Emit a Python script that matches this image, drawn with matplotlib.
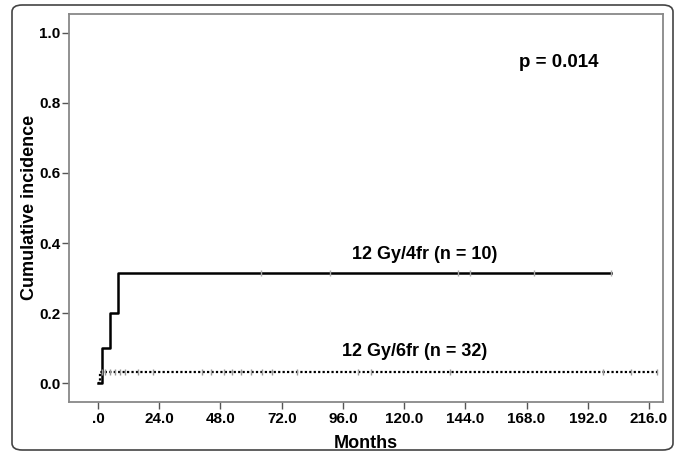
import matplotlib.pyplot as plt
from matplotlib.patches import FancyBboxPatch

plt.rcParams['font.family'] = ['Liberation Sans', 'DejaVu Sans']
plt.rcParams['font.weight'] = 'bold'

# 12 Gy/4fr curve (step times in months, cumulative incidence)
t_4fr = [0.0, 1.4, 4.7, 7.7, 201.0]
ci_4fr = [0.0, 0.1, 0.2, 0.315, 0.315]
cens_4fr = [64, 91, 141, 146, 171, 201]

# 12 Gy/6fr curve
t_6fr = [0.0, 0.6, 219.0]
ci_6fr = [0.0, 0.031, 0.031]
cens_6fr = [1.4, 2.7, 4.7, 6.6, 8.6, 10.5, 15.6, 21.4, 40.9, 44.4, 49.5, 52.6,
            56.1, 60, 64.3, 68.2, 78, 102, 107, 138, 198, 209, 219]

xticks = [0, 24, 48, 72, 96, 120, 144, 168, 192, 216]
xticklabels = ['.0', '24.0', '48.0', '72.0', '96.0', '120.0', '144.0', '168.0', '192.0', '216.0']
yticks = [0.0, 0.2, 0.4, 0.6, 0.8, 1.0]

W, H = 682, 453
fig = plt.figure(figsize=(W / 100, H / 100), dpi=100)
ax = fig.add_axes([69 / W, 1 - 402 / H, (663 - 69) / W, (402 - 14) / H])

# outer rounded frame
frame = FancyBboxPatch((12 / W, 1 - 450 / H), (673 - 12) / W, (450 - 5) / H,
                       boxstyle='round,pad=0,rounding_size=0.015',
                       transform=fig.transFigure, fill=False,
                       edgecolor='#444444', linewidth=1.2, zorder=-1)
fig.patches.append(frame)

ax.step(t_4fr, ci_4fr, where='post', color='black', lw=1.8)
ax.plot(cens_4fr, [0.315] * len(cens_4fr), linestyle='none', marker='|',
        color='#aaaaaa', markersize=4, mew=1)

ax.step(t_6fr, ci_6fr, where='post', color='black', lw=1.6, linestyle=(0, (1, 1)))
ax.plot(cens_6fr, [0.031] * len(cens_6fr), linestyle='none', marker='|',
        color='#999999', markersize=4, mew=1)

ax.set_xlim(-11.4, 221.5)
ax.set_ylim(-0.054, 1.054)
ax.set_xticks(xticks)
ax.set_xticklabels(xticklabels)
ax.set_yticks(yticks)
ax.set_yticklabels([f'{v:.1f}' for v in yticks])
ax.tick_params(direction='out', length=5, width=1, color='#555555', labelsize=11)
ax.tick_params(axis='y', pad=1)
ax.tick_params(axis='x', pad=2.5)

for s in ax.spines.values():
    s.set_color('#888888')
    s.set_linewidth(1.3)

ax.set_xlabel('Months', fontsize=13, fontweight='bold', va='center')
ax.set_ylabel('Cumulative incidence', fontsize=13, fontweight='bold', va='center')
ax.xaxis.set_label_coords(0.5, (402 - 443) / 388)
ax.yaxis.set_label_coords((30 - 69) / 594, 1 - (207 - 14) / 388)

ax.text(0.825, 0.876, 'p = 0.014', transform=ax.transAxes, ha='center', va='center',
        fontsize=13.5, fontweight='bold')
ax.text(128, 0.366, '12 Gy/4fr (n = 10)', ha='center', va='center',
        fontsize=13, fontweight='bold')
ax.text(124, 0.089, '12 Gy/6fr (n = 32)', ha='center', va='center',
        fontsize=13, fontweight='bold')

fig.savefig('out.png', dpi=100)
